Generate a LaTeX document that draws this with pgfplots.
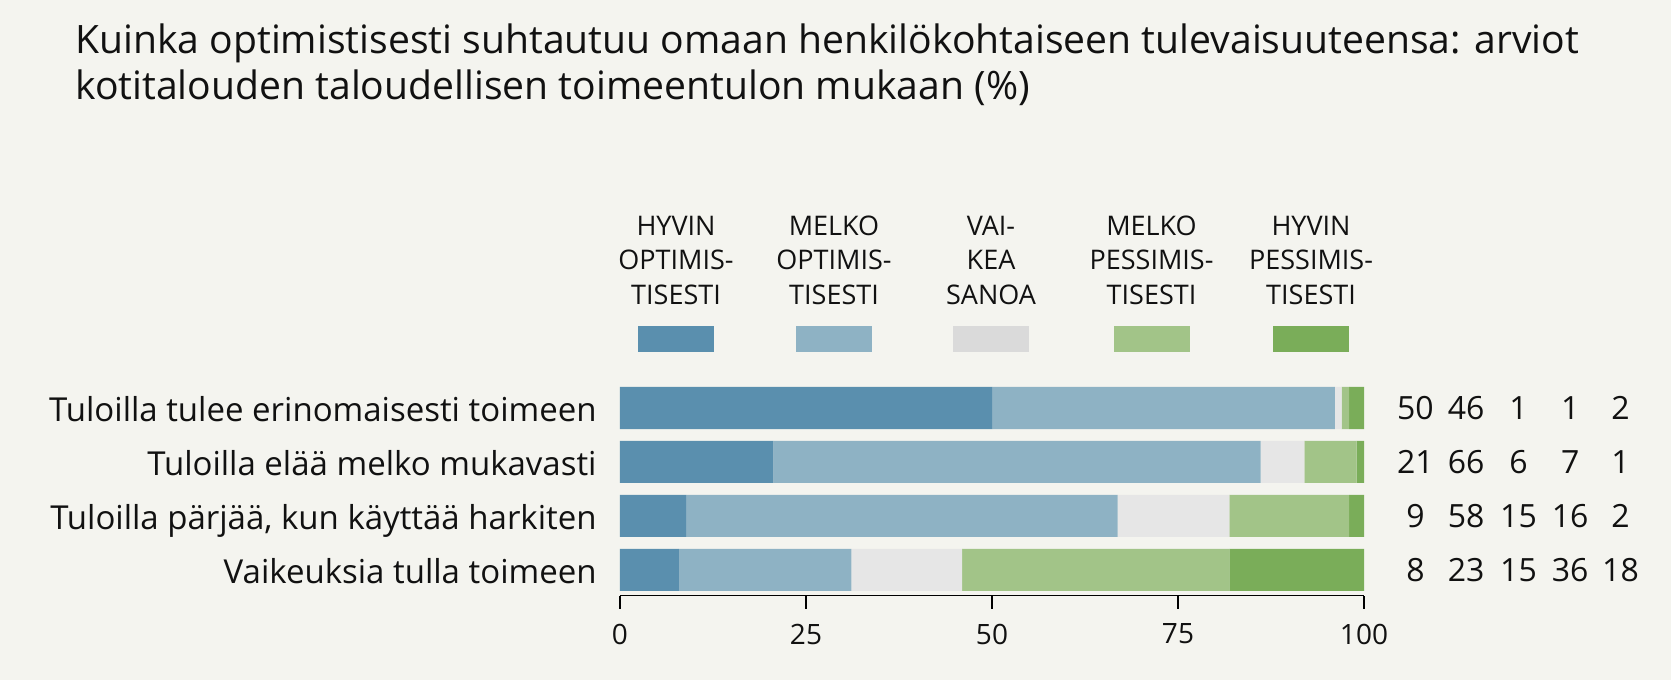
\documentclass[border=0pt]{standalone}
\usepackage{pgfplots}
\pgfplotsset{compat=1.18}
\usepackage{fontspec}
\setmainfont{Open Sans}
\definecolor{bg}{HTML}{F4F4EF}
\definecolor{cA}{HTML}{5A8FAE}
\definecolor{cB}{HTML}{8EB2C4}
\definecolor{cC}{HTML}{E6E6E6}
\definecolor{cCl}{HTML}{DADADA}
\definecolor{cD}{HTML}{A2C488}
\definecolor{cE}{HTML}{7AAD59}
\definecolor{txt}{HTML}{111111}
\newcommand{\legtext}[4]{%
  \node[anchor=base, inner sep=0pt, font=\fontsize{13.5}{13.5}\selectfont, text=txt] at (#1,236) {#2};
  \node[anchor=base, inner sep=0pt, font=\fontsize{13.5}{13.5}\selectfont, text=txt] at (#1,270) {#3};
  \node[anchor=base, inner sep=0pt, font=\fontsize{13.5}{13.5}\selectfont, text=txt] at (#1,305) {#4};
}
\newcommand{\catfont}{\fontsize{16.5}{16.5}\selectfont}
\newcommand{\numfont}{\fontsize{16}{16}\selectfont}
\tikzset{cat/.style={anchor=base east, inner sep=0pt, text=txt, font=\catfont, xshift=-11.5pt, yshift=-6.95pt},
  num/.style={anchor=base, inner sep=0pt, text=txt, font=\numfont, yshift=-5.65pt}}
\begin{document}
\begin{tikzpicture}
\begin{scope}[x=0.5pt,y=-0.5pt,shift={(0,340pt)}]
\fill[bg] (0,0) rectangle (1671,680);
\node[anchor=base west, inner sep=0pt, font=\fontsize{19.55}{23}\selectfont, text=txt] at (75,53.5) {Kuinka optimistisesti suhtautuu omaan henkilökohtaiseen tulevaisuuteensa: arviot};
\node[anchor=base west, inner sep=0pt, font=\fontsize{19.55}{23}\selectfont, text=txt] at (75,99.5) {kotitalouden taloudellisen toimeentulon mukaan (\%)};
\legtext{676}{HYVIN}{OPTIMIS-}{TISESTI}
\legtext{834}{MELKO}{OPTIMIS-}{TISESTI}
\legtext{991}{VAI-}{KEA}{SANOA}
\legtext{1151.5}{MELKO}{PESSIMIS-}{TISESTI}
\legtext{1311}{HYVIN}{PESSIMIS-}{TISESTI}
\fill[cA] (638,326) rectangle (714,352);
\fill[cB] (796,326) rectangle (872,352);
\fill[cCl] (953,326) rectangle (1029,352);
\fill[cD] (1113.5,326) rectangle (1189.5,352);
\fill[cE] (1273,326) rectangle (1349,352);
\end{scope}
\begin{axis}[
  at={(310pt,42.15pt)}, anchor=south west,
  scale only axis, width=372pt, height=107.35pt,
  xmin=0, xmax=100, ymin=-0.476, ymax=3.5,
  enlarge x limits=false, enlarge y limits=false,
  xbar stacked, bar width=21pt,
  axis x line*=bottom, axis y line=none,
  x axis line style={line width=0.65pt, black},
  xtick={0,25,50,75,100}, ytick=\empty,
  tick align=outside, major tick length=6.5pt,
  x tick style={line width=0.65pt, black},
  /pgf/number format/assume math mode=true,
  xticklabel style={font=\fontsize{14}{14}\selectfont, text=txt, yshift=-4pt},
  clip=false,
]
\addplot[fill=cA, draw=none] coordinates {(50.0,3) (20.6,2) (8.9,1) (7.9,0)};
\addplot[fill=cB, draw=none] coordinates {(46.1,3) (65.5,2) (58.0,1) (23.2,0)};
\addplot[fill=cC, draw=none] coordinates {(0.9,3) (5.9,2) (15.0,1) (14.9,0)};
\addplot[fill=cD, draw=none] coordinates {(1.0,3) (7.0,2) (16.1,1) (35.9,0)};
\addplot[fill=cE, draw=none] coordinates {(2.0,3) (1.0,2) (2.0,1) (18.1,0)};
\node[cat] at (axis cs:0,3) {Tuloilla tulee erinomaisesti toimeen};
\node[cat] at (axis cs:0,2) {Tuloilla elää melko mukavasti};
\node[cat] at (axis cs:0,1) {Tuloilla pärjää, kun käyttää harkiten};
\node[cat] at (axis cs:0,0) {Vaikeuksia tulla toimeen};
\node[num] at (axis cs:106.92,3) {50};
\node[num] at (axis cs:113.74,3) {46};
\node[num] at (axis cs:120.77,3) {1};
\node[num] at (axis cs:127.72,3) {1};
\node[num] at (axis cs:134.48,3) {2};
\node[num] at (axis cs:106.92,2) {21};
\node[num] at (axis cs:113.74,2) {66};
\node[num] at (axis cs:120.77,2) {6};
\node[num] at (axis cs:127.72,2) {7};
\node[num] at (axis cs:134.48,2) {1};
\node[num] at (axis cs:106.92,1) {9};
\node[num] at (axis cs:113.74,1) {58};
\node[num] at (axis cs:120.77,1) {15};
\node[num] at (axis cs:127.72,1) {16};
\node[num] at (axis cs:134.48,1) {2};
\node[num] at (axis cs:106.92,0) {8};
\node[num] at (axis cs:113.74,0) {23};
\node[num] at (axis cs:120.77,0) {15};
\node[num] at (axis cs:127.72,0) {36};
\node[num] at (axis cs:134.48,0) {18};
\end{axis}
\end{tikzpicture}
\end{document}
